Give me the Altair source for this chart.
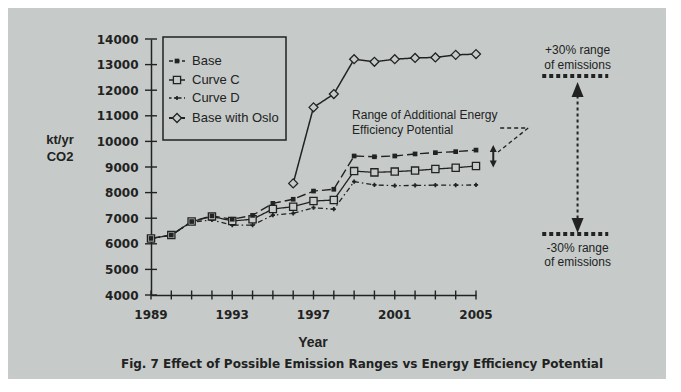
import altair as alt
import pandas as pd

# ---------------- data ----------------
years = list(range(1989, 2006))
base = [6210, 6340, 6870, 7090, 6960, 7110, 7580, 7740, 8060, 8130,
        9430, 9400, 9430, 9510, 9560, 9600, 9660]
curve_c = [6210, 6340, 6870, 7070, 6890, 6960, 7360, 7450, 7670, 7710,
           8840, 8790, 8820, 8860, 8920, 8970, 9040]
curve_d = [6210, 6340, 6850, 6930, 6730, 6730, 7120, 7190, 7410, 7350,
           8430, 8300, 8270, 8280, 8290, 8290, 8300]
oslo_years = list(range(1996, 2006))
oslo = [8360, 11330, 11850, 13210, 13110, 13210, 13260, 13280, 13380, 13410]

series_names = ["Base", "Curve C", "Curve D", "Base with Oslo"]
x_label_years = [1989, 1993, 1997, 2001, 2005]
y_tick_values = list(range(4000, 14001, 1000))

y_title_lines = ["kt/yr", "CO2"]
x_title = "Year"
caption = "Fig. 7 Effect of Possible Emission Ranges vs Energy Efficiency Potential"

# annotations (data coordinates: year, kt/yr)
eff_lines = ["Range of Additional Energy", "Efficiency Potential"]
eff_x = 1998.9
eff_y = [11030, 10445]
leader_x = [2006.19, 2007.57]
leader_x2 = [2007.57, 2006.09]
leader_y = [10523, 10523]
leader_y2 = [10523, 9586]
small_arrow_x = 2005.85
small_arrow_y = [9723, 9117]
range_x = 2010.0
range_line_x = [2008.26, 2011.51]
plus_lines = ["+30% range", "of emissions"]
plus_y = [13570, 12984]
minus_lines = ["-30% range", "of emissions"]
minus_y = [5836, 5289]
band_y = [12555, 6383]
big_arrow_y = [12027, 6715]

# ---------------- styling ----------------
INK = "#222222"
BG = "#c6cbc9"
W, H = 325, 256
FONT = "Liberation Sans"
TICKFONT = "DejaVu Sans"

xs = alt.Scale(domain=[1989, 2005], nice=False, zero=False)
ys = alt.Scale(domain=[4000, 14000], nice=False, zero=False)

xaxis = alt.Axis(values=x_label_years, grid=False, ticks=False, tickSize=0, labels=False,
                 domain=True, domainColor=INK, domainWidth=1.5, title=None)
yaxis = alt.Axis(values=y_tick_values, format="d", grid=False, ticks=False, tickSize=0,
                 domain=True, domainColor=INK, domainWidth=1.5, labelPadding=13,
                 labelFont=TICKFONT, labelFontSize=12, labelFontWeight="bold",
                 labelColor=INK, title=None)


def X():
    return alt.X("year:Q", scale=xs, axis=xaxis)


def Y():
    return alt.Y("kt:Q", scale=ys, axis=yaxis)


one = pd.DataFrame({"a": [0]})
layers = []

# ticks drawn as crossing rules
xt = pd.DataFrame({"year": years})
layers.append(alt.Chart(xt).mark_rule(color=INK, strokeWidth=1.4).encode(
    x=X(), y=alt.value(H - 4.5), y2=alt.value(H + 4.5)))
yt = pd.DataFrame({"kt": y_tick_values})
layers.append(alt.Chart(yt).mark_rule(color=INK, strokeWidth=1.4).encode(
    y=Y(), x=alt.value(-6), x2=alt.value(6)))
# x tick labels
xl = pd.DataFrame({"year": x_label_years, "lab": [str(v) for v in x_label_years]})
layers.append(alt.Chart(xl).mark_text(font=TICKFONT, fontSize=12, fontWeight="bold",
                                      color=INK, baseline="middle", align="center").encode(
    x=X(), y=alt.value(H + 20), text="lab:N"))

# series
series = {
    "Base": (years, base),
    "Curve C": (years, curve_c),
    "Curve D": (years, curve_d),
    "Base with Oslo": (oslo_years, oslo),
}
style = {
    "Base": dict(dash=[9, 4], shape="square", size=22, open=False, lw=1.4, ldash=[4, 2.5]),
    "Curve C": dict(dash=[1, 0], shape="square", size=52, open=True, lw=1.3, ldash=[1, 0]),
    "Curve D": dict(dash=[5, 3, 1.5, 3], shape="cross", size=18, open=False, lw=1.3, ldash=[2.5, 2.5]),
    "Base with Oslo": dict(dash=[1, 0], shape="diamond", size=80, open=True, lw=1.5, ldash=[1, 0]),
}

for name in ["Curve D", "Curve C", "Base", "Base with Oslo"]:
    yrs, vals = series[name]
    st = style[name]
    df = pd.DataFrame({"year": yrs, "kt": vals})
    layers.append(alt.Chart(df).mark_line(color=INK, strokeWidth=st["lw"],
                                          strokeDash=st["dash"]).encode(x=X(), y=Y()))
for name in ["Curve D", "Curve C", "Base", "Base with Oslo"]:
    yrs, vals = series[name]
    st = style[name]
    df = pd.DataFrame({"year": yrs, "kt": vals})
    if st["open"]:
        mk = alt.Chart(df).mark_point(shape=st["shape"], size=st["size"], filled=True,
                                      fill=BG, stroke=INK, strokeWidth=1.3, opacity=1)
    else:
        mk = alt.Chart(df).mark_point(shape=st["shape"], size=st["size"], filled=True,
                                      color=INK, opacity=1)
    layers.append(mk.encode(x=X(), y=Y()))

# legend (custom, inside plot upper-left)
layers.append(alt.Chart(one).mark_rect(filled=False, stroke=INK, strokeWidth=1.5).encode(
    x=alt.value(12), x2=alt.value(135), y=alt.value(-2), y2=alt.value(101)))
legend_y = [22, 41, 59, 79]
for name, ly in zip(series_names, legend_y):
    st = style[name]
    layers.append(alt.Chart(one).mark_rule(color=INK, strokeWidth=st["lw"] + 0.3,
                                           strokeDash=st["ldash"]).encode(
        x=alt.value(18), x2=alt.value(34), y=alt.value(ly)))
    if st["open"]:
        mk = alt.Chart(one).mark_point(shape=st["shape"], size=st["size"], filled=True,
                                       fill=BG, stroke=INK, strokeWidth=1.3, opacity=1)
    else:
        mk = alt.Chart(one).mark_point(shape=st["shape"], size=st["size"], filled=True,
                                       color=INK, opacity=1)
    layers.append(mk.encode(x=alt.value(26), y=alt.value(ly)))
    layers.append(alt.Chart(one).mark_text(text=name, align="left", baseline="middle",
                                           font=FONT, fontSize=13, color=INK).encode(
        x=alt.value(41), y=alt.value(ly)))

# efficiency annotation
eff_df = pd.DataFrame({"year": [eff_x] * 2, "kt": eff_y, "t": eff_lines})
layers.append(alt.Chart(eff_df).mark_text(align="left", baseline="middle", font=FONT,
                                          fontSize=12, color=INK).encode(
    x=X(), y=Y(), text="t:N"))
lead_df = pd.DataFrame({"year": leader_x, "year2": leader_x2, "kt": leader_y, "kt2": leader_y2})
layers.append(alt.Chart(lead_df).mark_rule(color=INK, strokeWidth=1.3, strokeDash=[4, 3]).encode(
    x=X(), x2="year2:Q", y=Y(), y2="kt2:Q"))
sa_df = pd.DataFrame({"year": [small_arrow_x], "kt": [small_arrow_y[0]], "kt2": [small_arrow_y[1]]})
layers.append(alt.Chart(sa_df).mark_rule(color=INK, strokeWidth=2).encode(
    x=X(), y=Y(), y2="kt2:Q"))
tri_up = "M-1,1L0,-1L1,1Z"
tri_dn = "M-1,-1L0,1L1,-1Z"
layers.append(alt.Chart(pd.DataFrame({"year": [small_arrow_x], "kt": [small_arrow_y[0]]})).mark_point(
    shape=tri_up, size=49, filled=True, color=INK, opacity=1).encode(x=X(), y=Y()))
layers.append(alt.Chart(pd.DataFrame({"year": [small_arrow_x], "kt": [small_arrow_y[1]]})).mark_point(
    shape=tri_dn, size=49, filled=True, color=INK, opacity=1).encode(x=X(), y=Y()))

# emission range annotation
txt_df = pd.DataFrame({"year": [range_x] * 4, "kt": plus_y + minus_y, "t": plus_lines + minus_lines})
layers.append(alt.Chart(txt_df).mark_text(align="center", baseline="middle", font=FONT,
                                          fontSize=12, color=INK).encode(
    x=X(), y=Y(), text="t:N"))
band_df = pd.DataFrame({"year": [range_line_x[0]] * 2, "year2": [range_line_x[1]] * 2, "kt": band_y})
layers.append(alt.Chart(band_df).mark_rule(color=INK, strokeWidth=4, strokeDash=[4, 3]).encode(
    x=X(), x2="year2:Q", y=Y()))
ba_df = pd.DataFrame({"year": [range_x], "kt": [big_arrow_y[0]], "kt2": [big_arrow_y[1]]})
layers.append(alt.Chart(ba_df).mark_rule(color=INK, strokeWidth=2, strokeDash=[3, 3]).encode(
    x=X(), y=Y(), y2="kt2:Q"))
big_up = "M-0.8,1L0,-1L0.8,1Z"
big_dn = "M-0.8,-1L0,1L0.8,-1Z"
layers.append(alt.Chart(pd.DataFrame({"year": [range_x], "kt": [big_arrow_y[0]]})).mark_point(
    shape=big_up, size=225, filled=True, color=INK, opacity=1).encode(x=X(), y=Y()))
layers.append(alt.Chart(pd.DataFrame({"year": [range_x], "kt": [big_arrow_y[1]]})).mark_point(
    shape=big_dn, size=225, filled=True, color=INK, opacity=1).encode(x=X(), y=Y()))

# titles
layers.append(alt.Chart(one).mark_text(text=y_title_lines[0], align="center", baseline="middle",
                                       font=FONT, fontSize=13, fontWeight="bold", color=INK).encode(
    x=alt.value(-91), y=alt.value(101)))
layers.append(alt.Chart(one).mark_text(text=y_title_lines[1], align="center", baseline="middle",
                                       font=FONT, fontSize=13, fontWeight="bold", color=INK).encode(
    x=alt.value(-91), y=alt.value(118)))
layers.append(alt.Chart(one).mark_text(text=x_title, align="center", baseline="middle",
                                       font=FONT, fontSize=14, fontWeight="bold", color=INK).encode(
    x=alt.value(162), y=alt.value(304)))
layers.append(alt.Chart(one).mark_text(text=caption, align="center", baseline="middle",
                                       font=TICKFONT, fontSize=12, fontWeight="bold", color=INK).encode(
    x=alt.value(211), y=alt.value(325)))

chart = alt.layer(*layers).properties(
    width=W, height=H,
    autosize=alt.AutoSizeParams(type="none"),
    padding={"left": 143, "top": 31, "right": 190, "bottom": 84},
).configure(background=BG).configure_view(stroke=None)

chart.save("out.html", embed_options={"renderer": "svg", "actions": False})
